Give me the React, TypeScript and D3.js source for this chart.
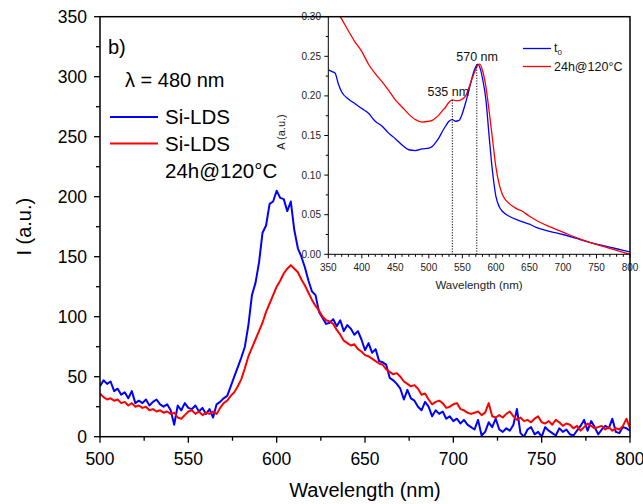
import React from "react";
import * as d3 from "d3";

// ---------- Main chart data (PL emission, λexc = 480 nm) ----------
const mainWavelengths: number[] = d3.range(500, 801, 2);
const siLds: number[] = [
  42, 47, 44, 46, 38, 40, 35, 37, 32, 38, 28, 30, 28, 31, 26, 29, 31, 27, 25, 27,
  22, 10, 26, 22, 28, 24, 23, 26, 21, 24, 19, 23, 16, 27, 29, 32, 34, 42, 50, 58,
  66, 75, 93, 118, 128, 145, 170, 176, 194, 196, 205, 199, 198, 188, 196, 172, 157, 150, 141, 130,
  121, 118, 104, 99, 94, 95, 98, 92, 97, 88, 93, 90, 85, 88, 81, 72, 78, 70, 73, 63,
  62, 60, 49, 47, 44, 40, 31, 39, 32, 30, 25, 22, 29, 25, 17, 22, 19, 21, 15, 17,
  13, 15, 11, 14, 10, 8, 6, 14, 1, 4, 12, 8, 15, 6, 4, 7, 5, 10, 23, 3,
  0, 6, 8, 2, 4, 0, 8, 5, 3, 1, 7, 4, 6, 2, 1, 5, 9, 14, 5, 13,
  8, 2, 6, 9, 7, 15, 4, 3, 8, 7, 5,
];
const siLdsHeated: number[] = [
  36, 33, 31, 32, 30, 31, 28, 29, 26, 28, 25, 26, 24, 25, 22, 23, 21, 22, 20, 21,
  19, 20, 16, 15, 18, 21, 22, 19, 21, 18, 20, 19, 21, 19, 24, 28, 30, 34, 37, 42,
  48, 57, 67, 74, 81, 88, 95, 104, 111, 118, 125, 130, 136, 140, 143, 140, 137, 131, 126, 120,
  114, 109, 105, 100, 97, 96, 94, 89, 85, 80, 78, 76, 77, 73, 71, 68, 67, 65, 63, 61,
  60, 56, 54, 52, 53, 50, 46, 44, 42, 43, 40, 35, 36, 31, 27, 29, 30, 28, 24, 25,
  27, 28, 23, 22, 20, 19, 20, 21, 18, 20, 28, 17, 16, 18, 16, 19, 21, 17, 14, 16,
  13, 14, 12, 15, 17, 12, 11, 13, 10, 14, 12, 9, 11, 10, 7, 9, 5, 8, 11, 9,
  7, 8, 9, 6, 8, 5, 7, 6, 9, 15, 7,
];
const mainXTicks: number[] = [500, 550, 600, 650, 700, 750, 800];
const mainYTicks: number[] = [0, 50, 100, 150, 200, 250, 300, 350];

// ---------- Inset data (absorbance) ----------
const insetWavelengths: number[] = [
  350, 355, 360, 365, 370, 380, 390, 400, 410, 420, 430, 440, 450, 460, 470, 480, 490, 500,
  505, 510, 515, 520, 525, 530, 535, 540, 545, 550, 555, 560, 565, 570, 573, 576, 580, 585,
  590, 595, 600, 605, 610, 620, 630, 640, 650, 660, 680, 700, 720, 740, 760, 780, 800,
];
const absT0: number[] = [
  0.233, 0.231, 0.229, 0.215, 0.205, 0.196, 0.19, 0.184, 0.178, 0.168, 0.162, 0.153, 0.146,
  0.138, 0.132, 0.131, 0.133, 0.134, 0.136, 0.141, 0.147, 0.155, 0.162, 0.168, 0.17, 0.168,
  0.169, 0.178, 0.192, 0.208, 0.225, 0.237, 0.24, 0.236, 0.222, 0.196, 0.148, 0.104, 0.073,
  0.06, 0.054, 0.048, 0.044, 0.041, 0.038, 0.034, 0.029, 0.025, 0.02, 0.015, 0.011, 0.007, 0.003,
];
const absHeated: number[] = [
  0.33, 0.32, 0.312, 0.304, 0.297, 0.282, 0.268, 0.256, 0.24, 0.228, 0.218, 0.207, 0.195,
  0.186, 0.177, 0.17, 0.167, 0.168, 0.169, 0.172, 0.176, 0.181, 0.186, 0.192, 0.195, 0.194,
  0.194, 0.196, 0.2, 0.211, 0.223, 0.234, 0.239, 0.24, 0.232, 0.212, 0.18, 0.145, 0.11,
  0.088, 0.075, 0.064, 0.058, 0.054, 0.048, 0.043, 0.035, 0.028, 0.021, 0.015, 0.01, 0.005, 0.0,
];
const insetXTicks: number[] = [350, 400, 450, 500, 550, 600, 650, 700, 750, 800];
const insetYTicks: number[] = [0, 0.05, 0.1, 0.15, 0.2, 0.25, 0.3];
const peakMarks: { wl: number; value: number; label: string }[] = [
  { wl: 535, value: 0.195, label: "535 nm" },
  { wl: 571.5, value: 0.24, label: "570 nm" },
];

const FONT = "'Liberation Sans', Arial, sans-serif";

export default function App() {
  const x = d3.scaleLinear().domain([500, 800]).range([100, 630]);
  const y = d3.scaleLinear().domain([0, 350]).range([436.7, 16.7]);
  const xi = d3.scaleLinear().domain([350, 800]).range([328.3, 630]);
  const yi = d3.scaleLinear().domain([0, 0.3]).range([254.3, 16.7]);

  const mainLine = (vals: number[]) =>
    d3
      .line<number>()
      .x((_, i) => x(mainWavelengths[i]))
      .y((v) => y(v))(vals) || "";
  const insetLine = (vals: number[]) =>
    d3
      .line<number>()
      .x((_, i) => xi(insetWavelengths[i]))
      .y((v) => yi(v))
      .curve(d3.curveMonotoneX)(vals) || "";

  const [x0, x1] = x.range();
  const [yb, yt] = y.range();
  const [ix0, ix1] = xi.range();
  const [iyb, iyt] = yi.range();

  const mainXMinor = d3.range(525, 800, 50);
  const mainYMinor = d3.range(25, 350, 50);
  const insetXMinor = d3.range(350, 801, 10).filter((v) => v % 50 !== 0);
  const insetYMinor = d3.range(0.025, 0.3, 0.05);

  return (
    <svg
      width={643}
      height={504}
      style={{ position: "absolute", left: 0, top: 0, background: "#fff" }}
      fontFamily={FONT}
    >
      <defs>
        <clipPath id="mainClip">
          <rect x={x0} y={yt} width={x1 - x0} height={yb - yt} />
        </clipPath>
        <clipPath id="insetClip">
          <rect x={ix0} y={iyt} width={ix1 - ix0} height={iyb - iyt} />
        </clipPath>
      </defs>

      {/* main curves */}
      <g clipPath="url(#mainClip)" fill="none" strokeWidth={2} strokeLinejoin="round">
        <path d={mainLine(siLds)} stroke="#0000ff" />
        <path d={mainLine(siLdsHeated)} stroke="#ff0000" />
      </g>

      {/* main axes ticks */}
      <g stroke="#000" strokeWidth={1.3}>
        {mainXTicks.map((t) => (
          <line key={"mx" + t} x1={x(t)} x2={x(t)} y1={yb} y2={yb + 6} />
        ))}
        {mainXMinor.map((t) => (
          <line key={"mxm" + t} x1={x(t)} x2={x(t)} y1={yb} y2={yb + 4} />
        ))}
        {mainYTicks.map((t) => (
          <line key={"my" + t} x1={x0 - 6} x2={x0} y1={y(t)} y2={y(t)} />
        ))}
        {mainYMinor.map((t) => (
          <line key={"mym" + t} x1={x0 - 4} x2={x0} y1={y(t)} y2={y(t)} />
        ))}
      </g>
      <g fontSize={17.5} fill="#000">
        {mainXTicks.map((t) => (
          <text key={"mxl" + t} x={x(t)} y={465} textAnchor="middle">
            {t}
          </text>
        ))}
        {mainYTicks.map((t) => (
          <text key={"myl" + t} x={87} y={y(t) + 6} textAnchor="end">
            {t}
          </text>
        ))}
      </g>
      <text x={365} y={497} fontSize={20} textAnchor="middle">
        Wavelength (nm)
      </text>
      <text
        transform={`translate(31, ${(yb + yt) / 2}) rotate(-90)`}
        fontSize={20}
        textAnchor="middle"
      >
        I (a.u.)
      </text>

      {/* labels & legend */}
      <text x={108} y={54} fontSize={20}>
        b)
      </text>
      <text x={125} y={87} fontSize={20}>
        λ = 480 nm
      </text>
      <line x1={110} x2={158} y1={117} y2={117} stroke="#0000ff" strokeWidth={2} />
      <text x={165} y={124} fontSize={20.5}>
        Si-LDS
      </text>
      <line x1={110} x2={158} y1={143.5} y2={143.5} stroke="#ff0000" strokeWidth={2} />
      <text x={165} y={150.5} fontSize={20.5}>
        Si-LDS
      </text>
      <text x={165} y={178} fontSize={20.5}>
        24h@120°C
      </text>

      {/* inset */}
      <rect x={ix0} y={iyt} width={ix1 - ix0} height={iyb - iyt} fill="#fff" />
      <g clipPath="url(#insetClip)" fill="none" strokeWidth={1.3}>
        <path d={insetLine(absT0)} stroke="#0000ff" />
        <path d={insetLine(absHeated)} stroke="#ff0000" />
      </g>
      <g stroke="#000" strokeWidth={1} strokeDasharray="1.2,1.5">
        {peakMarks.map((p) => (
          <line key={p.label} x1={xi(p.wl)} x2={xi(p.wl)} y1={yi(p.value)} y2={iyb} />
        ))}
      </g>
      <g fontSize={12.5} fill="#111">
        <text x={xi(529)} y={96} textAnchor="middle">
          {peakMarks[0].label}
        </text>
        <text x={xi(572)} y={61} textAnchor="middle">
          {peakMarks[1].label}
        </text>
      </g>
      <g stroke="#000" strokeWidth={1}>
        <line x1={ix0} x2={ix0} y1={iyt} y2={iyb} />
        <line x1={ix0} x2={ix1} y1={iyb} y2={iyb} />
        {insetXTicks.map((t) => (
          <line key={"ix" + t} x1={xi(t)} x2={xi(t)} y1={iyb} y2={iyb + 4} />
        ))}
        {insetXMinor.map((t) => (
          <line key={"ixm" + t} x1={xi(t)} x2={xi(t)} y1={iyb} y2={iyb + 2.5} />
        ))}
        {insetYTicks.map((t) => (
          <line key={"iy" + t} x1={ix0 - 4} x2={ix0} y1={yi(t)} y2={yi(t)} />
        ))}
        {insetYMinor.map((t) => (
          <line key={"iym" + t} x1={ix0 - 2.5} x2={ix0} y1={yi(t)} y2={yi(t)} />
        ))}
      </g>
      <g fontSize={10} fill="#222">
        {insetXTicks.map((t) => (
          <text key={"ixl" + t} x={xi(t)} y={270.5} textAnchor="middle">
            {t}
          </text>
        ))}
        {insetYTicks.map((t) => (
          <text key={"iyl" + t} x={321} y={yi(t) + 3.5} textAnchor="end">
            {t.toFixed(2)}
          </text>
        ))}
      </g>
      <text x={479} y={289} fontSize={11.5} fill="#222" textAnchor="middle">
        Wavelength (nm)
      </text>
      <text
        transform={`translate(285, 132) rotate(-90)`}
        fontSize={11}
        fill="#222"
        textAnchor="middle"
      >
        A (a.u.)
      </text>
      {/* inset legend */}
      <line x1={523} x2={551} y1={48.5} y2={48.5} stroke="#0000ff" strokeWidth={1.3} />
      <text x={554} y={52} fontSize={12.5} fill="#111">
        t<tspan fontSize={8} dy={3}>0</tspan>
      </text>
      <line x1={523} x2={551} y1={66.5} y2={66.5} stroke="#ff0000" strokeWidth={1.3} />
      <text x={554} y={71} fontSize={12.5} fill="#111">
        24h@120°C
      </text>

      {/* main frame */}
      <rect x={x0} y={yt} width={x1 - x0} height={yb - yt} fill="none" stroke="#000" strokeWidth={1.5} />
    </svg>
  );
}
